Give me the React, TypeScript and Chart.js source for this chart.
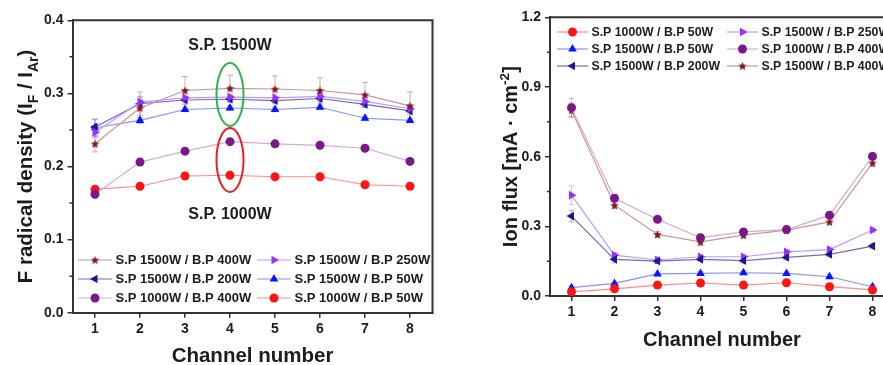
import React, { useEffect, useRef } from 'react';
import { Chart, registerables } from 'chart.js';
import { drawPoint } from 'chart.js/helpers';

Chart.register(...registerables);

// ---------------- data ----------------
const channels = [1, 2, 3, 4, 5, 6, 7, 8];

// Left panel: F radical density (I_F / I_Ar)
const fSp1500Bp400 = [0.231, 0.280, 0.304, 0.307, 0.306, 0.304, 0.298, 0.283];
const fSp1500Bp250 = [0.247, 0.288, 0.294, 0.295, 0.294, 0.296, 0.289, 0.279];
const fSp1500Bp200 = [0.254, 0.286, 0.291, 0.292, 0.290, 0.293, 0.285, 0.276];
const fSp1500Bp50 = [0.253, 0.263, 0.278, 0.280, 0.278, 0.281, 0.266, 0.263];
const fSp1000Bp400 = [0.162, 0.206, 0.221, 0.234, 0.231, 0.229, 0.225, 0.207];
const fSp1000Bp50 = [0.169, 0.173, 0.187, 0.188, 0.186, 0.186, 0.175, 0.173];

const fErrSp1500Bp400 = [0.011, 0.016, 0.019, 0.018, 0.018, 0.017, 0.017, 0.019];
const fErrSp1500Bp250 = [0.008, 0.006, 0.004, 0.004, 0.004, 0.004, 0.005, 0.005];
const fErrSp1500Bp200 = [0.010, 0.016, 0.004, 0.004, 0.004, 0.004, 0.004, 0.005];
const fErrSp1500Bp50 = [0.012, 0.004, 0.003, 0.003, 0.003, 0.003, 0.003, 0.003];
const fErrSp1000Bp400 = [0.004, 0.003, 0.003, 0.003, 0.003, 0.003, 0.003, 0.003];
const fErrSp1000Bp50 = [0.003, 0.003, 0.003, 0.003, 0.003, 0.003, 0.003, 0.003];

// Right panel: ion flux [mA·cm^-2]
const ionSp1000Bp50 = [0.018, 0.031, 0.047, 0.056, 0.047, 0.057, 0.040, 0.026];
const ionSp1500Bp50 = [0.036, 0.054, 0.095, 0.097, 0.100, 0.097, 0.083, 0.040];
const ionSp1500Bp200 = [0.344, 0.158, 0.150, 0.158, 0.152, 0.166, 0.179, 0.215];
const ionSp1500Bp250 = [0.434, 0.176, 0.155, 0.169, 0.169, 0.190, 0.200, 0.284];
const ionSp1000Bp400 = [0.811, 0.421, 0.330, 0.251, 0.276, 0.286, 0.348, 0.601];
const ionSp1500Bp400 = [0.800, 0.391, 0.265, 0.233, 0.262, 0.284, 0.319, 0.573];

const ionErrSp1000Bp50 = [0.006, 0.006, 0.006, 0.006, 0.006, 0.006, 0.006, 0.006];
const ionErrSp1500Bp50 = [0.008, 0.008, 0.008, 0.008, 0.008, 0.008, 0.008, 0.008];
const ionErrSp1500Bp200 = [0.025, 0.015, 0.010, 0.010, 0.010, 0.010, 0.010, 0.010];
const ionErrSp1500Bp250 = [0.040, 0.012, 0.015, 0.010, 0.010, 0.010, 0.010, 0.010];
const ionErrSp1000Bp400 = [0.040, 0.015, 0.010, 0.012, 0.010, 0.010, 0.012, 0.015];
const ionErrSp1500Bp400 = [0.030, 0.015, 0.012, 0.015, 0.012, 0.012, 0.012, 0.015];

const leftYTicks = [0, 0.1, 0.2, 0.3, 0.4];
const rightYTicks = [0, 0.3, 0.6, 0.9, 1.2];

const LABELS = {
  s1500b400: 'S.P 1500W / B.P 400W',
  s1500b250: 'S.P 1500W / B.P 250W',
  s1500b200: 'S.P 1500W / B.P 200W',
  s1500b50: 'S.P 1500W / B.P 50W',
  s1000b400: 'S.P 1000W / B.P 400W',
  s1000b50: 'S.P 1000W / B.P 50W',
};

// ---------------- styles ----------------
const FONT = '"Liberation Sans", Arial, Helvetica, sans-serif';
const TEXT = '#1c1c1c';
const AXIS = '#333333';

type StyleKey = keyof typeof LABELS;
const STYLES: Record<StyleKey, { color: string; line: string; err: string; style: string; rotation: number; radius: number }> = {
  s1500b400: { color: '#85161c', line: '#c8979a', err: 'rgba(150,95,100,0.5)', style: 'star', rotation: 0, radius: 4.5 },
  s1500b250: { color: '#9a30ff', line: '#c596ff', err: 'rgba(170,110,255,0.45)', style: 'triangle', rotation: 90, radius: 5 },
  s1500b200: { color: '#1a1a8e', line: '#6f6fb6', err: 'rgba(90,90,170,0.45)', style: 'triangle', rotation: -90, radius: 5 },
  s1500b50: { color: '#0a14ff', line: '#8890ff', err: 'rgba(80,90,255,0.45)', style: 'triangle', rotation: 0, radius: 5 },
  s1000b400: { color: '#7b1887', line: '#d6abd9', err: 'rgba(150,80,160,0.4)', style: 'circle', rotation: 0, radius: 4.5 },
  s1000b50: { color: '#ff1414', line: '#ff8a8a', err: 'rgba(255,90,90,0.45)', style: 'circle', rotation: 0, radius: 4.5 },
};

const starCache: Record<string, HTMLCanvasElement> = {};
function getStar(color: string): HTMLCanvasElement {
  if (starCache[color]) return starCache[color];
  const size = 9;
  const c = document.createElement('canvas');
  c.width = size;
  c.height = size;
  const g = c.getContext('2d')!;
  g.fillStyle = color;
  g.beginPath();
  const cx = size / 2, cy = size / 2 + 0.4, R = size / 2, r = R * 0.45;
  for (let i = 0; i < 10; i++) {
    const a = -Math.PI / 2 + (i * Math.PI) / 5;
    const rad = i % 2 === 0 ? R : r;
    g.lineTo(cx + rad * Math.cos(a), cy + rad * Math.sin(a));
  }
  g.closePath();
  g.fill();
  starCache[color] = c;
  return c;
}

function makeDataset(key: StyleKey, values: number[], errors: number[]) {
  const s = STYLES[key];
  return {
    label: LABELS[key],
    data: channels.map((c, i) => ({ x: c, y: values[i] })),
    errors,
    errColor: s.err,
    borderColor: s.line,
    backgroundColor: s.color,
    pointBackgroundColor: s.color,
    pointBorderColor: s.color,
    pointBorderWidth: 0,
    pointRadius: s.radius,
    pointHoverRadius: s.radius,
    pointStyle: s.style === 'star' ? getStar(s.color) : s.style,
    pointRotation: s.rotation,
    borderWidth: 1.2,
    showLine: true,
    tension: 0,
  };
}

// ---------------- decoration plugin ----------------
type Run = { t: string; sub?: boolean; sup?: boolean };
interface Decor {
  yTitle: Run[];
  xTitle: string;
  yTitleDx: number;
  xTitleDy: number;
  titleFont: number;
  minorStep: number;
  legend: { cols: number[][]; colX: number[]; rowY: number[]; fromBottom: boolean; lineLen: number; gap: number; font: number };
  texts: { text: string; x: number; y: number; font: number }[];
  ellipses: { x: number; y: number; rx: number; ry: number; color: string }[];
}

function drawRuns(ctx: CanvasRenderingContext2D, runs: Run[], size: number, cx: number, cy: number) {
  const small = size * 0.68;
  const widths = runs.map((r) => {
    ctx.font = `bold ${r.sub || r.sup ? small : size}px ${FONT}`;
    return ctx.measureText(r.t).width;
  });
  const total = widths.reduce((a, b) => a + b, 0);
  let x = cx - total / 2;
  ctx.textAlign = 'left';
  ctx.textBaseline = 'alphabetic';
  const base = cy + size * 0.36;
  runs.forEach((r, i) => {
    ctx.font = `bold ${r.sub || r.sup ? small : size}px ${FONT}`;
    let y = base;
    if (r.sub) y += size * 0.28;
    if (r.sup) y -= size * 0.42;
    ctx.fillText(r.t, x, y);
    x += widths[i];
  });
}

function decorPlugin(d: Decor) {
  return {
    id: 'decor',
    beforeDatasetsDraw(chart: any) {
      const ctx: CanvasRenderingContext2D = chart.ctx;
      const xs = chart.scales.x;
      const ys = chart.scales.y;
      ctx.save();
      chart.data.datasets.forEach((ds: any) => {
        if (!ds.errors) return;
        ctx.strokeStyle = ds.errColor;
        ctx.lineWidth = 1;
        ds.data.forEach((p: any, i: number) => {
          const e = ds.errors[i];
          const px = xs.getPixelForValue(p.x);
          const top = ys.getPixelForValue(p.y + e);
          const bot = ys.getPixelForValue(p.y - e);
          ctx.beginPath();
          ctx.moveTo(px, top);
          ctx.lineTo(px, bot);
          ctx.moveTo(px - 3, top);
          ctx.lineTo(px + 3, top);
          ctx.moveTo(px - 3, bot);
          ctx.lineTo(px + 3, bot);
          ctx.stroke();
        });
      });
      ctx.restore();
    },
    afterDraw(chart: any) {
      const ctx: CanvasRenderingContext2D = chart.ctx;
      const a = chart.chartArea;
      const xs = chart.scales.x;
      const ys = chart.scales.y;
      ctx.save();
      // frame (top & right)
      ctx.strokeStyle = AXIS;
      ctx.lineWidth = 2;
      ctx.beginPath();
      ctx.moveTo(a.left, a.top);
      ctx.lineTo(a.right, a.top);
      ctx.lineTo(a.right, a.bottom);
      ctx.stroke();
      // minor ticks on y
      ctx.lineWidth = 1.5;
      ctx.beginPath();
      for (let v = ys.min + d.minorStep; v < ys.max; v += d.minorStep * 2) {
        const py = ys.getPixelForValue(v);
        ctx.moveTo(a.left - 3, py);
        ctx.lineTo(a.left, py);
      }
      ctx.stroke();

      // annotations
      d.ellipses.forEach((e) => {
        const cx = xs.getPixelForValue(e.x);
        const cy = ys.getPixelForValue(e.y);
        const rx = Math.abs(xs.getPixelForValue(e.x + e.rx) - cx);
        const ry = Math.abs(ys.getPixelForValue(e.y + e.ry) - cy);
        ctx.strokeStyle = e.color;
        ctx.lineWidth = 2;
        ctx.beginPath();
        ctx.ellipse(cx, cy, rx, ry, 0, 0, Math.PI * 2);
        ctx.stroke();
      });
      ctx.fillStyle = TEXT;
      d.texts.forEach((t) => {
        ctx.font = `bold ${t.font}px ${FONT}`;
        ctx.textAlign = 'center';
        ctx.textBaseline = 'middle';
        ctx.fillText(t.text, xs.getPixelForValue(t.x), ys.getPixelForValue(t.y));
      });

      // legend
      const L = d.legend;
      L.cols.forEach((col, ci) => {
        col.forEach((dsIndex, ri) => {
          const ds = chart.data.datasets[dsIndex];
          const x0 = a.left + L.colX[ci];
          const y = L.fromBottom ? a.bottom - L.rowY[ri] : a.top + L.rowY[ri];
          ctx.strokeStyle = ds.borderColor;
          ctx.lineWidth = 1.2;
          ctx.beginPath();
          ctx.moveTo(x0, y);
          ctx.lineTo(x0 + L.lineLen, y);
          ctx.stroke();
          ctx.fillStyle = ds.pointBackgroundColor;
          ctx.strokeStyle = ds.pointBorderColor;
          drawPoint(ctx, { pointStyle: ds.pointStyle, rotation: ds.pointRotation, radius: ds.pointRadius, borderWidth: 0 } as any, x0 + L.lineLen / 2, y);
          ctx.fillStyle = TEXT;
          ctx.font = `bold ${L.font}px ${FONT}`;
          ctx.textAlign = 'left';
          ctx.textBaseline = 'middle';
          ctx.fillText(ds.label, x0 + L.lineLen + L.gap, y + 0.5);
        });
      });

      // axis titles
      ctx.fillStyle = TEXT;
      ctx.font = `bold ${d.titleFont}px ${FONT}`;
      ctx.textAlign = 'center';
      ctx.textBaseline = 'middle';
      ctx.fillText(d.xTitle, (a.left + a.right) / 2, a.bottom + d.xTitleDy);
      ctx.save();
      ctx.translate(a.left - d.yTitleDx, (a.top + a.bottom) / 2);
      ctx.rotate(-Math.PI / 2);
      drawRuns(ctx, d.yTitle, d.titleFont, 0, 0);
      ctx.restore();
      ctx.restore();
    },
  };
}

// ---------------- chart builders ----------------
function scalesFor(yMin: number, yMax: number, yTicks: number[], yWidth: number, xHeight: number) {
  const tickFont = { family: FONT, size: 14, weight: 'bold' as const };
  return {
    x: {
      type: 'linear' as const,
      min: 0.5,
      max: 8.5,
      afterBuildTicks: (s: any) => {
        s.ticks = channels.map((v) => ({ value: v }));
      },
      afterFit: (s: any) => {
        s.height = xHeight;
      },
      ticks: { font: tickFont, color: TEXT, padding: 3, callback: (v: any) => String(v) },
      grid: { drawOnChartArea: false, drawTicks: true, tickLength: 5, color: AXIS, lineWidth: 1.5 },
      border: { display: true, color: AXIS, width: 2 },
    },
    y: {
      type: 'linear' as const,
      min: yMin,
      max: yMax,
      afterBuildTicks: (s: any) => {
        s.ticks = yTicks.map((v) => ({ value: v }));
      },
      afterFit: (s: any) => {
        s.width = yWidth;
      },
      ticks: { font: tickFont, color: TEXT, padding: 4, callback: (v: any) => Number(v).toFixed(1) },
      grid: { drawOnChartArea: false, drawTicks: true, tickLength: 5, color: AXIS, lineWidth: 1.5 },
      border: { display: true, color: AXIS, width: 2 },
    },
  };
}

function buildLeft() {
  const datasets = [
    makeDataset('s1500b400', fSp1500Bp400, fErrSp1500Bp400), // 0
    makeDataset('s1500b250', fSp1500Bp250, fErrSp1500Bp250), // 1
    makeDataset('s1500b200', fSp1500Bp200, fErrSp1500Bp200), // 2
    makeDataset('s1500b50', fSp1500Bp50, fErrSp1500Bp50), // 3
    makeDataset('s1000b400', fSp1000Bp400, fErrSp1000Bp400), // 4
    makeDataset('s1000b50', fSp1000Bp50, fErrSp1000Bp50), // 5
  ];
  const decor: Decor = {
    yTitle: [{ t: 'F radical density (I' }, { t: 'F', sub: true }, { t: ' / I' }, { t: 'Ar', sub: true }, { t: ')' }],
    xTitle: 'Channel number',
    yTitleDx: 47.5,
    xTitleDy: 44,
    titleFont: 20.5,
    minorStep: 0.05,
    legend: { cols: [[0, 2, 4], [1, 3, 5]], colX: [5.5, 184.5], rowY: [52.7, 33.7, 14.7], fromBottom: true, lineLen: 34, gap: 3.5, font: 13 },
    texts: [
      { text: 'S.P. 1500W', x: 4, y: 0.366, font: 16 },
      { text: 'S.P. 1000W', x: 4, y: 0.1337, font: 16 },
    ],
    ellipses: [
      { x: 4, y: 0.2985, rx: 0.3, ry: 0.043, color: '#2fb34a' },
      { x: 4, y: 0.2088, rx: 0.3, ry: 0.0438, color: '#e52222' },
    ],
  };
  return {
    type: 'line' as const,
    data: { datasets },
    options: {
      responsive: false,
      animation: false as const,
      layout: { padding: { top: 20.3, right: 7.5, left: 0, bottom: 0 } },
      plugins: { legend: { display: false }, tooltip: { enabled: false } },
      scales: scalesFor(0, 0.4, leftYTicks, 72.5, 52.3),
    },
    plugins: [decorPlugin(decor)],
  };
}

function buildRight() {
  const datasets = [
    makeDataset('s1000b50', ionSp1000Bp50, ionErrSp1000Bp50), // 0
    makeDataset('s1500b50', ionSp1500Bp50, ionErrSp1500Bp50), // 1
    makeDataset('s1500b200', ionSp1500Bp200, ionErrSp1500Bp200), // 2
    makeDataset('s1500b250', ionSp1500Bp250, ionErrSp1500Bp250), // 3
    makeDataset('s1000b400', ionSp1000Bp400, ionErrSp1000Bp400), // 4
    makeDataset('s1500b400', ionSp1500Bp400, ionErrSp1500Bp400), // 5
  ];
  const decor: Decor = {
    yTitle: [{ t: 'Ion flux [mA · cm' }, { t: '-2', sup: true }, { t: ']' }],
    xTitle: 'Channel number',
    yTitleDx: 40,
    xTitleDy: 44,
    titleFont: 20,
    minorStep: 0.15,
    legend: { cols: [[0, 1, 2], [3, 4, 5]], colX: [7, 177], rowY: [14.7, 31.7, 48.7], fromBottom: false, lineLen: 31, gap: 3.5, font: 12.3 },
    texts: [],
    ellipses: [],
  };
  return {
    type: 'line' as const,
    data: { datasets },
    options: {
      responsive: false,
      animation: false as const,
      layout: { padding: { top: 17.3, right: 16, left: 0, bottom: 0 } },
      plugins: { legend: { display: false }, tooltip: { enabled: false } },
      scales: scalesFor(0, 1.2, rightYTicks, 110, 69),
    },
    plugins: [decorPlugin(decor)],
  };
}

function Panel({ build, left, width }: { build: () => any; left: number; width: number }) {
  const ref = useRef<HTMLCanvasElement | null>(null);
  useEffect(() => {
    if (!ref.current) return;
    const chart = new Chart(ref.current, build());
    return () => chart.destroy();
  }, [build]);
  return (
    <canvas
      ref={ref}
      width={width}
      height={365}
      style={{ position: 'absolute', left, top: 0, width, height: 365, display: 'block' }}
    />
  );
}

export default function App() {
  return (
    <div
      style={{
        position: 'fixed',
        left: 0,
        top: 0,
        width: 883,
        height: 365,
        overflow: 'hidden',
        background: '#ffffff',
      }}
    >
      <Panel build={buildLeft} left={0} width={440} />
      <Panel build={buildRight} left={440} width={470} />
    </div>
  );
}
